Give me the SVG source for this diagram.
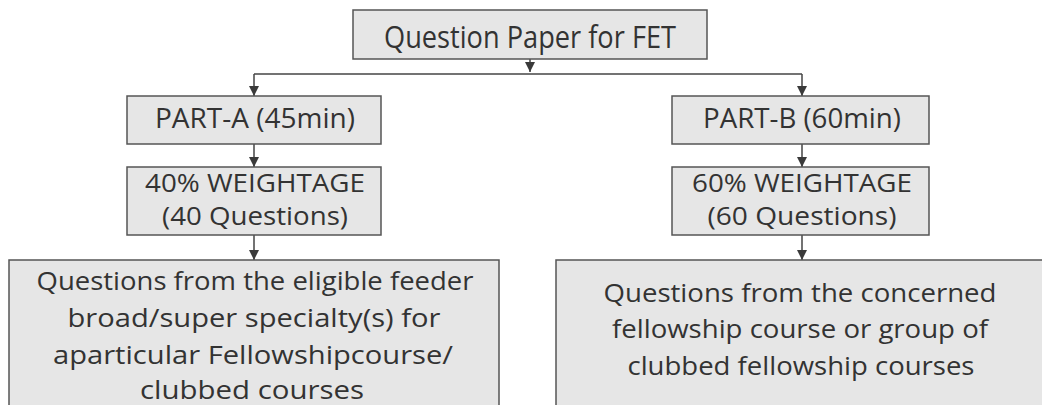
<svg xmlns="http://www.w3.org/2000/svg" width="1042" height="405" viewBox="0 0 1042 405">
<defs>
<marker id="ah" viewBox="0 0 10 10" refX="10" refY="5" markerWidth="10" markerHeight="10" markerUnits="userSpaceOnUse" orient="auto">
<path d="M0,0 L10,5 L0,10 z" fill="#3a3a3a"/>
</marker>
<style>
.box{fill:#e6e6e6;stroke:#555;stroke-width:1.5}
.t{font-family:"Open Sans","Liberation Sans",sans-serif;font-size:27px;fill:#333;text-anchor:middle}
.h{font-size:31px}
.w{font-size:25.5px}
.b{font-size:26px}
.c{fill:none;stroke:#444;stroke-width:1.5}
</style>
</defs>
<rect width="1042" height="405" fill="#fff"/>
<g id="connectors">
<path class="c" d="M530,59 V72" marker-end="url(#ah)"/>
<path class="c" d="M254,74 H802"/>
<path class="c" d="M254,74 V96" marker-end="url(#ah)"/>
<path class="c" d="M802,74 V96" marker-end="url(#ah)"/>
<path class="c" d="M254,144 V167" marker-end="url(#ah)"/>
<path class="c" d="M802,144 V167" marker-end="url(#ah)"/>
<path class="c" d="M254,235 V260" marker-end="url(#ah)"/>
<path class="c" d="M802,235 V260" marker-end="url(#ah)"/>
</g>
<g id="n-top">
<rect class="box" x="353" y="10" width="354" height="49"/>
<text class="t h" x="530" y="48" textLength="292" lengthAdjust="spacingAndGlyphs">Question Paper for FET</text>
</g>
<g id="n-parta">
<rect class="box" x="127" y="96" width="254" height="48"/>
<text class="t" x="255" y="128" textLength="200" lengthAdjust="spacingAndGlyphs">PART-A (45min)</text>
</g>
<g id="n-partb">
<rect class="box" x="672" y="96" width="257" height="48"/>
<text class="t" x="802" y="128" textLength="198" lengthAdjust="spacingAndGlyphs">PART-B (60min)</text>
</g>
<g id="n-wa">
<rect class="box" x="127" y="167" width="254" height="68"/>
<text class="t w" x="255" y="192" textLength="220" lengthAdjust="spacingAndGlyphs">40% WEIGHTAGE</text>
<text class="t w" x="255" y="225" textLength="186" lengthAdjust="spacingAndGlyphs">(40 Questions)</text>
</g>
<g id="n-wb">
<rect class="box" x="672" y="167" width="257" height="68"/>
<text class="t w" x="802" y="192" textLength="220" lengthAdjust="spacingAndGlyphs">60% WEIGHTAGE</text>
<text class="t w" x="802" y="225" textLength="189" lengthAdjust="spacingAndGlyphs">(60 Questions)</text>
</g>
<g id="n-qa">
<rect class="box" x="9" y="260" width="490" height="160"/>
<text class="t b" x="255" y="290" textLength="437" lengthAdjust="spacingAndGlyphs">Questions from the eligible feeder</text>
<text class="t b" x="254" y="327" textLength="373" lengthAdjust="spacingAndGlyphs">broad/super specialty(s) for</text>
<text class="t b" x="253" y="364" textLength="400" lengthAdjust="spacingAndGlyphs">aparticular Fellowshipcourse/</text>
<text class="t b" x="252" y="399" textLength="224" lengthAdjust="spacingAndGlyphs">clubbed courses</text>
</g>
<g id="n-qb">
<rect class="box" x="556" y="260" width="500" height="160"/>
<text class="t b" x="800" y="302" textLength="393" lengthAdjust="spacingAndGlyphs">Questions from the concerned</text>
<text class="t b" x="800" y="338" textLength="376" lengthAdjust="spacingAndGlyphs">fellowship course or group of</text>
<text class="t b" x="801" y="375" textLength="347" lengthAdjust="spacingAndGlyphs">clubbed fellowship courses</text>
</g>
</svg>
